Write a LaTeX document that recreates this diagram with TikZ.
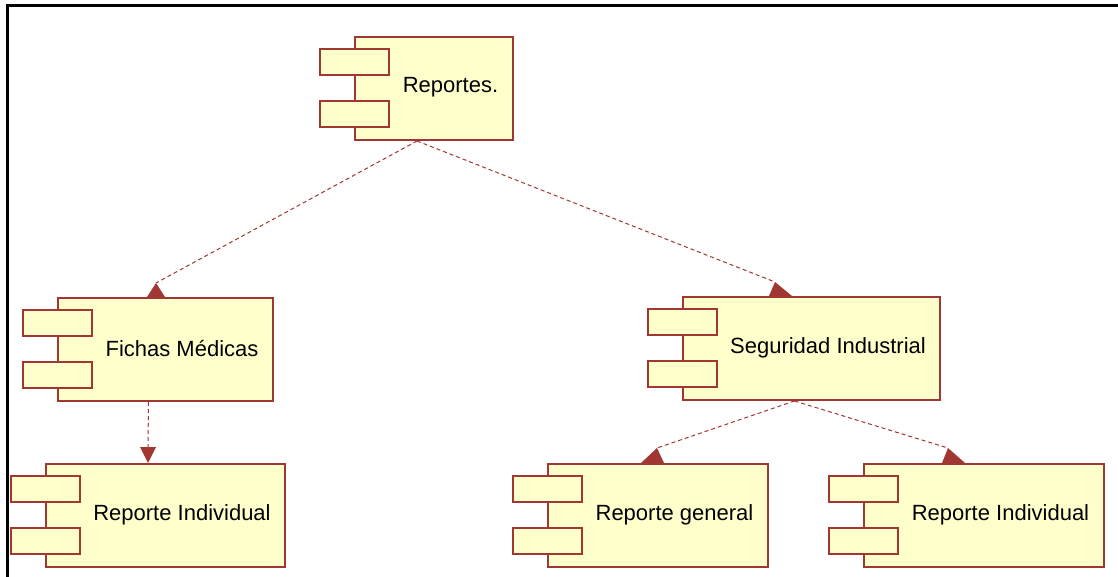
\documentclass[tikz,border=0pt]{standalone}
\usepackage{fontspec}
\setmainfont{Liberation Sans}
\usetikzlibrary{calc}
\newdimen\px \px=0.75pt
\definecolor{umlred}{RGB}{160,55,50}
\definecolor{umlfill}{RGB}{255,255,204}
\tikzset{
  compbox/.style={draw=umlred, fill=umlfill, line width=2\px, minimum height=103\px, inner sep=0pt, anchor=north west},
  tabbox/.style={draw=umlred, fill=umlfill, line width=2\px},
  comptext/.style={font=\fontsize{16.5}{19}\selectfont, inner sep=0pt},
  dep/.style={draw=umlred, line width=1\px, dash pattern=on 4\px off 3\px},
  head/.style={fill=umlred},
  frameline/.style={draw=black, line width=3\px}
}
% name, left, top, main width, text
\newcommand{\umlcomp}[5]{%
  \node[compbox, minimum width=#4\px] (#1) at (#2,#3) {};
  \draw[tabbox] ([xshift=-34\px, yshift=-13\px]#1.north west) rectangle ++(69,26);
  \draw[tabbox] ([xshift=-34\px, yshift=-65\px]#1.north west) rectangle ++(69,26);
  \path (#2,#3) ++({(35+#4)/2}, 51.5) node[comptext] (#1-t) {#5};
  \coordinate (#1-bot) at ($(#1.south west)!0.5!(#1.south east)+(-17,0)$);
}
\begin{document}
\begin{tikzpicture}[x=0.75pt, y=-0.75pt]
\useasboundingbox (0,0) rectangle (1118,577);
\fill[white] (0,0) rectangle (1118,577);
\draw[frameline] (7.5,577) -- (7.5,5.8) -- (1118,5.8);

\umlcomp{rep}{354}{36}{158}{Reportes.}
\umlcomp{fich}{57}{297}{215}{Fichas Médicas}
\umlcomp{seg}{682}{296}{257}{Seguridad Industrial}
\umlcomp{ril}{45}{463}{239}{Reporte Individual}
\umlcomp{rgen}{547}{463}{220}{Reporte general}
\umlcomp{rir}{863}{463}{240}{Reporte Individual}

% arrowhead apexes
\coordinate (a1) at (156,283);
\coordinate (a2) at (775,282);
\coordinate (a3) at (148,447);
\coordinate (a4) at (657,448);
\coordinate (a5) at (948,448);

\draw[dep] (rep-bot) -- (a1);
\fill[head] (a1) -- (147,297) -- (165,297) -- cycle;
\draw[dep] (rep-bot) -- (a2);
\fill[head] (a2) -- (769,296) -- (792,296) -- cycle;
\draw[dep] (fich-bot) -- (a3);
\fill[head] (a3) -- ++(-8,0) -- (148,463) -- ++(8,-16) -- cycle;
\draw[dep] (seg-bot) -- (a4);
\fill[head] (a4) -- (641,463) -- (664,463) -- cycle;
\draw[dep] (seg-bot) -- (a5);
\fill[head] (a5) -- (942,463) -- (965,463) -- cycle;
\end{tikzpicture}
\end{document}
